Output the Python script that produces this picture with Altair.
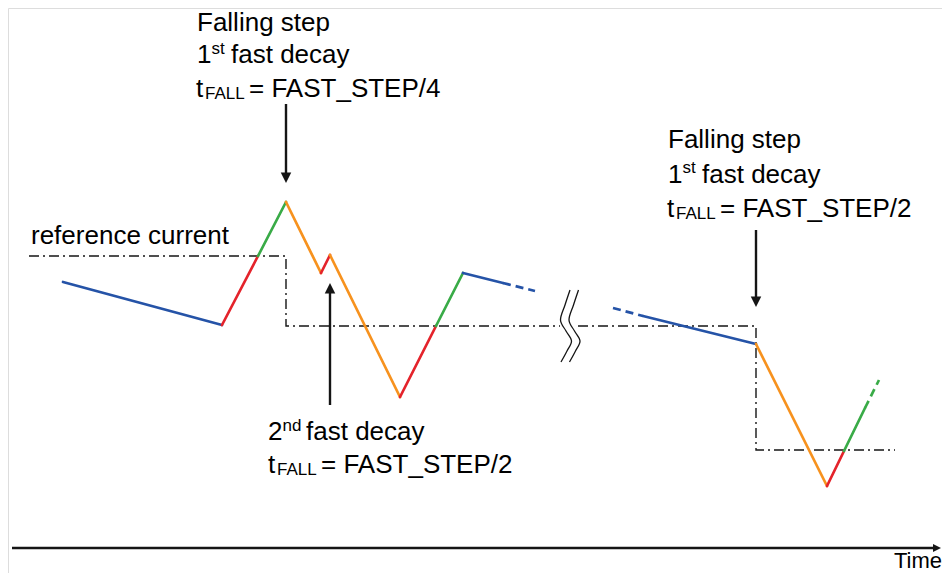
import altair as alt
import pandas as pd

# ---------------- data (reference pixel space) ----------------
BLUE, RED, GREEN, ORANGE = "#2553a7", "#e4232b", "#39ab47", "#f7921e"

# waveform, part 1
w1_x = [63, 222, 258, 286, 321, 330, 400, 436, 463, 503]
w1_y = [282, 325, 256, 202, 273, 255, 397, 326, 273, 283]
w1_c = [BLUE, RED, GREEN, ORANGE, RED, ORANGE, RED, GREEN, BLUE]
# waveform, part 2
w2_x = [643, 756, 827, 844, 865]
w2_y = [316, 344, 486, 451, 408]
w2_c = [BLUE, ORANGE, RED, GREEN]
# dashed continuations: (x1, y1, x2, y2, colour)
dash_x1 = [503, 613, 865]
dash_y1 = [283, 308, 408]
dash_x2 = [535, 643, 879]
dash_y2 = [291, 316, 380]
dash_c = [BLUE, BLUE, GREEN]

# reference current (dash-dot) paths
ref1_x = [29, 286, 286, 560]
ref1_y = [256, 256, 326, 326]
ref2_x = [578, 756, 756, 895]
ref2_y = [326, 326, 450, 450]

# break symbol (two S curves)
brk_dx = [0, -5, -9.5, -4, 1.5, -3, -9]
brk_y = [290, 305, 320, 331, 341, 351, 362]
brk_x0 = [570, 578.5]

# arrows: shaft x, shaft start y, tip y
arr_x = [286, 756, 330]
arr_y0 = [104, 230, 405]
arr_tip = [183, 307, 283]
arr_dir = ["down", "down", "up"]

# time axis
axis_x = [12, 933]
axis_y = 548
axis_tip = 941

# texts: x, baseline y, text, font size
txt_x = [197, 197, 211.5, 231, 196, 205, 249,
         668, 668, 682.5, 702, 667, 676, 720,
         268, 282.5, 306, 268, 277, 321,
         31]
txt_y = [31, 63, 53.5, 63, 97, 99, 97,
         148, 182.5, 173, 182.5, 217, 219, 217,
         440, 430.5, 440, 473, 475, 473,
         243.5]
txt_t = ["Falling step", "1", "st", "fast decay", "t", "FALL", "= FAST_STEP/4",
         "Falling step", "1", "st", "fast decay", "t", "FALL", "= FAST_STEP/2",
         "2", "nd", "fast decay", "t", "FALL", "= FAST_STEP/2",
         "reference current"]
txt_s = [26, 26, 17, 26, 26, 17, 26,
         26, 26, 17, 26, 26, 17, 26,
         26, 17, 26, 26, 17, 26,
         26]

# ---------------- build tables ----------------
seg_rows = []
for k, (xs_, ys_, cs_) in enumerate([(w1_x, w1_y, w1_c), (w2_x, w2_y, w2_c)]):
    for i, c in enumerate(cs_):
        seg_rows.append(dict(seg=f"s{k}_{i}", o=0, x=xs_[i], y=ys_[i], c=c))
        seg_rows.append(dict(seg=f"s{k}_{i}", o=1, x=xs_[i + 1], y=ys_[i + 1], c=c))
seg_df = pd.DataFrame(seg_rows)

dash_rows = []
for i in range(len(dash_c)):
    dash_rows.append(dict(seg=f"d{i}", o=0, x=dash_x1[i], y=dash_y1[i], c=dash_c[i]))
    dash_rows.append(dict(seg=f"d{i}", o=1, x=dash_x2[i], y=dash_y2[i], c=dash_c[i]))
dash_df = pd.DataFrame(dash_rows)

ref_rows = []
for k, (xs_, ys_) in enumerate([(ref1_x, ref1_y), (ref2_x, ref2_y)]):
    for i in range(len(xs_)):
        ref_rows.append(dict(seg=f"r{k}", o=i, x=xs_[i], y=ys_[i]))
ref_df = pd.DataFrame(ref_rows)

brk_rows = []
for k, x0 in enumerate(brk_x0):
    for i in range(len(brk_y)):
        brk_rows.append(dict(seg=f"b{k}", o=i, x=x0 + brk_dx[i], y=brk_y[i]))
brk_df = pd.DataFrame(brk_rows)

shaft_rows = []
head_rows = []
for i in range(len(arr_x)):
    shaft_rows.append(dict(x=arr_x[i], y=arr_y0[i], y2=arr_tip[i] + (-6 if arr_dir[i] == "down" else 6)))
    head_rows.append(dict(x=arr_x[i], y=arr_tip[i], d=arr_dir[i]))
shaft_df = pd.DataFrame(shaft_rows)
head_df = pd.DataFrame(head_rows)

axis_df = pd.DataFrame([dict(x=axis_x[0], x2=axis_x[1], y=axis_y)])
axis_head_df = pd.DataFrame([dict(x=axis_tip, y=axis_y)])

txt_df = pd.DataFrame(dict(x=txt_x, y=txt_y, t=txt_t, s=txt_s))
time_df = pd.DataFrame([dict(x=942, y=568, t="Time")])

# ---------------- chart ----------------
W, H = 934, 565
xsc = alt.Scale(domain=[8, 942], nice=False, zero=False)
ysc = alt.Scale(domain=[8, 573], nice=False, zero=False, reverse=True)
X = lambda f="x": alt.X(f"{f}:Q", scale=xsc, axis=None)
Y = lambda f="y": alt.Y(f"{f}:Q", scale=ysc, axis=None)
FONT = "Liberation Sans"
INK = "#151515"

wave = alt.Chart(seg_df).mark_line(strokeWidth=2.7, strokeCap="round").encode(
    x=X(), y=Y(), detail="seg:N", order="o:Q", color=alt.Color("c:N", scale=None))
wave_d = alt.Chart(dash_df).mark_line(strokeWidth=2.7, strokeDash=[8, 5]).encode(
    x=X(), y=Y(), detail="seg:N", order="o:Q", color=alt.Color("c:N", scale=None))
ref = alt.Chart(ref_df).mark_line(strokeWidth=1.4, color=INK, strokeDash=[10, 4, 2, 4]).encode(
    x=X(), y=Y(), detail="seg:N", order="o:Q")
brk = alt.Chart(brk_df).mark_line(strokeWidth=1.3, color=INK, interpolate="cardinal").encode(
    x=X(), y=Y(), detail="seg:N", order="o:Q")
shafts = alt.Chart(shaft_df).mark_rule(strokeWidth=2.4, color=INK).encode(
    x=X(), y=Y(), y2="y2:Q")
heads_dn = alt.Chart(head_df[head_df.d == "down"]).mark_point(
    shape="M0,0L-1,-2L1,-2Z", size=110, filled=True, opacity=1, color=INK, strokeWidth=0).encode(x=X(), y=Y())
heads_up = alt.Chart(head_df[head_df.d == "up"]).mark_point(
    shape="M0,0L-1,2L1,2Z", size=110, filled=True, opacity=1, color=INK, strokeWidth=0).encode(x=X(), y=Y())
axis_line = alt.Chart(axis_df).mark_rule(strokeWidth=2.6, color=INK).encode(
    x=X(), x2="x2:Q", y=Y())
axis_head = alt.Chart(axis_head_df).mark_point(
    shape="M0,0L-2,-1L-2,1Z", size=64, filled=True, opacity=1, color=INK, strokeWidth=0).encode(x=X(), y=Y())
texts = alt.Chart(txt_df).mark_text(align="left", baseline="alphabetic", font=FONT, color="#000").encode(
    x=X(), y=Y(), text="t:N", size=alt.Size("s:Q", scale=None))
time_t = alt.Chart(time_df).mark_text(align="right", baseline="alphabetic", font=FONT, fontSize=22, color="#000").encode(
    x=X(), y=Y(), text="t:N")

chart = alt.layer(ref, brk, wave, wave_d, shafts, heads_dn, heads_up, axis_line, axis_head, texts, time_t).properties(
    width=W, height=H, padding=0, autosize=alt.AutoSizeParams(type="none")
).configure_view(strokeWidth=0, stroke="transparent").configure(background="white")

chart.save("out.html", embed_options={"renderer": "svg", "actions": False})
